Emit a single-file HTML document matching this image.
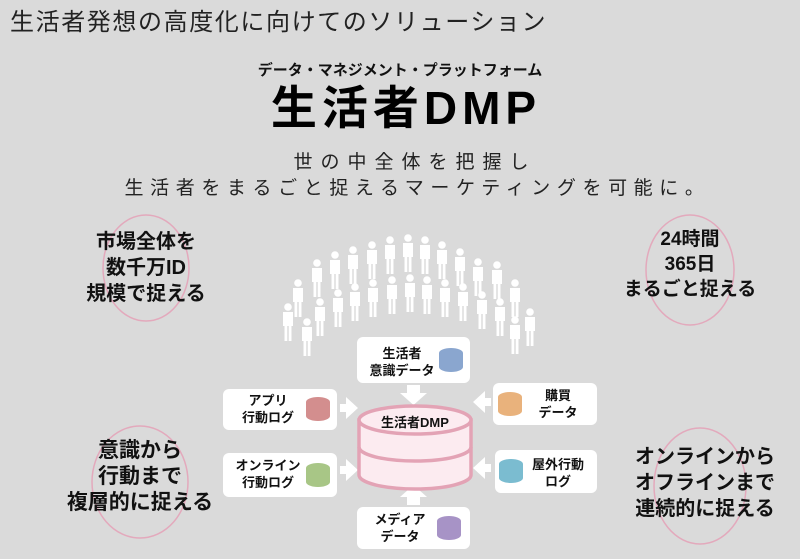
<!DOCTYPE html>
<html><head><meta charset="utf-8"><style>
body{margin:0;width:800px;height:559px;background:#dadada;overflow:hidden;position:relative;font-family:"Liberation Sans","Noto Sans CJK JP",sans-serif;}
.t{position:absolute;white-space:nowrap;}
</style></head><body>
<div class="t" style="left:10px;top:2px;font-size:24px;color:#222;letter-spacing:1.6px;">生活者発想の高度化に向けてのソリューション</div>
<div class="t" style="left:0;width:800px;text-align:center;top:59px;font-size:15px;font-weight:bold;color:#111;">データ・マネジメント・プラットフォーム</div>
<div class="t" style="left:0;width:812px;text-align:center;top:78px;font-size:46px;font-weight:bold;color:#000;letter-spacing:5px;line-height:60px;">生活者DMP</div>
<div class="t" style="left:0;width:830px;text-align:center;top:147px;font-size:19px;color:#222;letter-spacing:8px;">世の中全体を把握し</div>
<div class="t" style="left:0;width:835px;text-align:center;top:173px;font-size:19px;color:#222;letter-spacing:6.6px;">生活者をまるごと捉えるマーケティングを可能に。</div>

<svg width="800" height="559" style="position:absolute;left:0;top:0">
<defs>
<g id="p"><circle cx="0" cy="0" r="3.8" fill="#fff"/><path d="M-5,5 h10 v14 h-1.5 v15 h-2.8 v-15 h-1.4 v15 h-2.8 v-15 h-1.5z" fill="#fff"/></g>
<g id="db"><ellipse cx="0" cy="-7" rx="12" ry="5"/><rect x="-12" y="-7" width="24" height="14"/><ellipse cx="0" cy="7" rx="12" ry="5"/></g>
</defs>
<g fill="none" stroke="#e3a9bc" stroke-width="1.5">
<ellipse cx="146" cy="268" rx="43" ry="53"/>
<ellipse cx="690" cy="270" rx="44" ry="55"/>
<ellipse cx="140" cy="482" rx="48" ry="56"/>
<ellipse cx="700" cy="486" rx="46" ry="58"/>
</g>
<use href="#p" x="288" y="307"/><use href="#p" x="298" y="283"/><use href="#p" x="317" y="263"/><use href="#p" x="335" y="255"/><use href="#p" x="353" y="250"/><use href="#p" x="372" y="245"/><use href="#p" x="390" y="240"/><use href="#p" x="408" y="238"/><use href="#p" x="425" y="240"/><use href="#p" x="442" y="245"/><use href="#p" x="460" y="252"/><use href="#p" x="478" y="262"/><use href="#p" x="497" y="265"/><use href="#p" x="515" y="283"/><use href="#p" x="530" y="312"/>
<use href="#p" x="307" y="322"/><use href="#p" x="320" y="302"/><use href="#p" x="338" y="293"/><use href="#p" x="355" y="287"/><use href="#p" x="373" y="283"/><use href="#p" x="392" y="280"/><use href="#p" x="410" y="278"/><use href="#p" x="427" y="280"/><use href="#p" x="445" y="283"/><use href="#p" x="463" y="287"/><use href="#p" x="482" y="295"/><use href="#p" x="500" y="302"/><use href="#p" x="515" y="320"/>
<g fill="#fff">
<rect x="357" y="337" width="113" height="46" rx="6"/>
<rect x="223" y="389" width="114" height="41" rx="6"/>
<rect x="493" y="383" width="104" height="42" rx="6"/>
<rect x="223" y="453" width="114" height="44" rx="6"/>
<rect x="495" y="450" width="102" height="43" rx="6"/>
<rect x="357" y="507" width="113" height="42" rx="6"/>
</g>
<g fill="#fff">
<path d="M407,385 h13 v8 h7 l-13.5,12 -13.5,-12 h7z"/>
<path d="M340,404 h6 v-7 l12,11 -12,11 v-7 h-6z"/>
<path d="M340,466 h6 v-7 l12,11 -12,11 v-7 h-6z"/>
<path d="M491,398 h-6 v-7 l-12,11 12,11 v-7 h6z"/>
<path d="M491,464 h-6 v-7 l-12,11 12,11 v-7 h6z"/>
<path d="M407,505 h13 v-8 h7 l-13.5,-12 -13.5,12 h7z"/>
</g>
<use href="#db" x="451" y="360" fill="#8aa6cf"/>
<use href="#db" x="318" y="409" fill="#d38e8e"/>
<use href="#db" x="510" y="404" fill="#e9b27c"/>
<use href="#db" x="318" y="475" fill="#a8c686"/>
<use href="#db" x="511" y="471" fill="#7bbcd0"/>
<use href="#db" x="449" y="528" fill="#a793c6"/>
<g stroke="#e3a3b5" stroke-width="3.5" fill="#fcebf0">
<path d="M359,420 v55 a56,14 0 0 0 112,0 v-55z"/>
<path d="M359,447 a56,14 0 0 0 112,0" fill="none"/>
<ellipse cx="415" cy="420" rx="56" ry="14"/>
</g>
</svg>

<div class="t" style="left:362px;top:345px;width:80px;text-align:center;font-size:13px;font-weight:bold;line-height:17px;color:#111;">生活者<br>意識データ</div>
<div class="t" style="left:232px;top:392px;width:72px;text-align:center;font-size:13px;font-weight:bold;line-height:17px;color:#111;">アプリ<br>行動ログ</div>
<div class="t" style="left:525px;top:387px;width:66px;text-align:center;font-size:13px;font-weight:bold;line-height:17px;color:#111;">購買<br>データ</div>
<div class="t" style="left:228px;top:457px;width:80px;text-align:center;font-size:13px;font-weight:bold;line-height:17px;color:#111;">オンライン<br>行動ログ</div>
<div class="t" style="left:525px;top:456px;width:66px;text-align:center;font-size:13px;font-weight:bold;line-height:17px;color:#111;">屋外行動<br>ログ</div>
<div class="t" style="left:362px;top:511px;width:76px;text-align:center;font-size:13px;font-weight:bold;line-height:17px;color:#111;">メディア<br>データ</div>
<div class="t" style="left:359px;top:412px;width:112px;text-align:center;font-size:13px;font-weight:bold;color:#111;">生活者DMP</div>

<div class="t" style="left:46px;top:229px;width:200px;text-align:center;font-size:20px;font-weight:bold;line-height:26px;color:#111;">市場全体を<br>数千万ID<br>規模で捉える</div>
<div class="t" style="left:590px;top:227px;width:200px;text-align:center;font-size:19px;font-weight:bold;line-height:25px;color:#111;">24時間<br>365日<br>まるごと捉える</div>
<div class="t" style="left:40px;top:438px;width:200px;text-align:center;font-size:21px;font-weight:bold;line-height:26px;color:#111;">意識から<br>行動まで<br>複層的に捉える</div>
<div class="t" style="left:605px;top:444px;width:200px;text-align:center;font-size:20px;font-weight:bold;line-height:26px;color:#111;">オンラインから<br>オフラインまで<br>連続的に捉える</div>
</body></html>
